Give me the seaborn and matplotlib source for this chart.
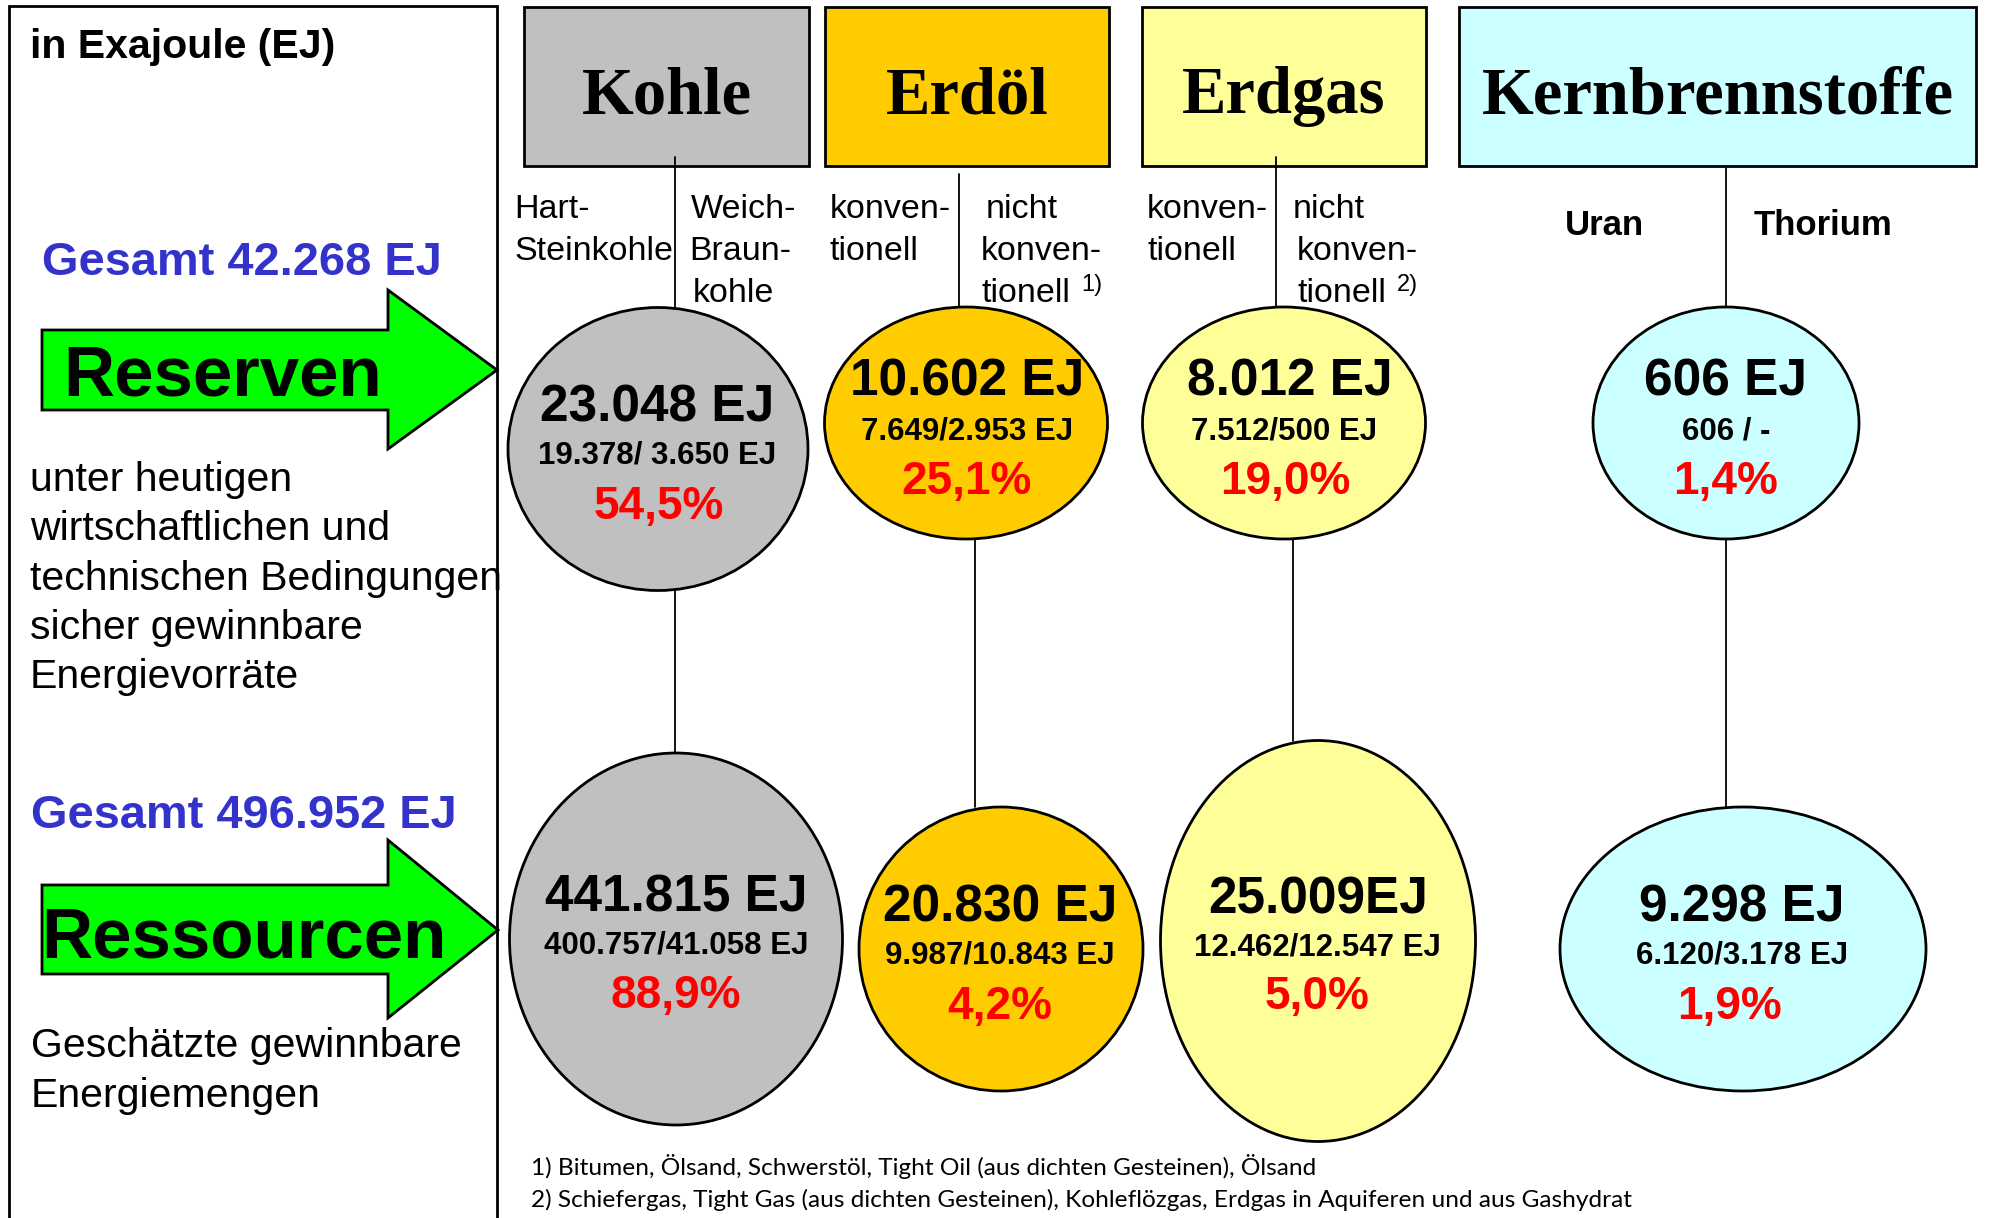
import matplotlib
matplotlib.use("Agg")
import matplotlib.pyplot as plt
from matplotlib.patches import Ellipse, Rectangle, Polygon
import seaborn as sns

# Data
fuels = ["Kohle", "Erdöl", "Erdgas", "Kernbrennstoffe"]
fuel_colors = ["#C0C0C0", "#FFCC00", "#FFFF99", "#CCFFFF"]
reserven_total = ["23.048 EJ", "10.602 EJ", "8.012 EJ", "606 EJ"]
reserven_split = ["19.378/ 3.650 EJ", "7.649/2.953 EJ", "7.512/500 EJ", "606 / -"]
reserven_share = ["54,5%", "25,1%", "19,0%", "1,4%"]
ressourcen_total = ["441.815 EJ", "20.830 EJ", "25.009EJ", "9.298 EJ"]
ressourcen_split = ["400.757/41.058 EJ", "9.987/10.843 EJ", "12.462/12.547 EJ", "6.120/3.178 EJ"]
ressourcen_share = ["88,9%", "4,2%", "5,0%", "1,9%"]
gesamt_reserven = "Gesamt 42.268 EJ"
gesamt_ressourcen = "Gesamt 496.952 EJ"
footnotes = ["1) Bitumen, Ölsand, Schwerstöl, Tight Oil (aus dichten Gesteinen), Ölsand",
             "2) Schiefergas, Tight Gas (aus dichten Gesteinen), Kohleflözgas, Erdgas in Aquiferen und aus Gashydrat"]

# Layout (pixel coordinates, y downwards)
header_x = [(524, 809), (825, 1109), (1142, 1426), (1459, 1976)]
header_y = (7, 166)
res_ell = [(658, 449, 300, 283), (966, 423, 283, 232), (1284, 423, 283, 232), (1726, 423, 266, 232)]
ress_ell = [(676, 939, 333, 372), (1001, 949, 284, 284), (1318, 941, 315, 401), (1743, 949, 366, 284)]
res_text_x = [(657, 657, 659), (967, 967, 967), (1290, 1284, 1285), (1726, 1726, 1726)]
res_base = [(422, 464, 519), (396, 440, 494), (396, 440, 494), (396, 440, 494)]
ress_text_x = [(676, 676, 676), (1000, 1000, 1000), (1318, 1317, 1317), (1742, 1742, 1729)]
ress_base = [(911, 954, 1008), (921, 964, 1019), (913, 956, 1009), (921, 964, 1019)]

sns.set_theme(style="white")
plt.rcParams['font.family'] = ['Liberation Sans', 'DejaVu Sans']
plt.rcParams['text.color'] = 'black'

fig = plt.figure(figsize=(19.9, 12.18), dpi=100)
ax = fig.add_axes([0, 0, 1, 1])
ax.set_xlim(0, 1990)
ax.set_ylim(1218, 0)
ax.axis("off")

# left frame
ax.plot([9, 9, 497, 497], [1218, 6, 6, 1218], color="black", lw=2, solid_joinstyle="miter")

ax.text(30, 58, "in Exajoule (EJ)", fontsize=29.5, fontweight="bold", va="baseline")
ax.text(42, 275, gesamt_reserven, fontsize=33.8, fontweight="bold", color="#3333CC", va="baseline")
ax.text(31, 828, gesamt_ressourcen, fontsize=33.8, fontweight="bold", color="#3333CC", va="baseline")


def arrow(x0, x1, xh, y0, y1, yh0, yh1, ytip):
    pts = [(x0, y0), (xh, y0), (xh, yh0), (x1, ytip), (xh, yh1), (xh, y1), (x0, y1)]
    ax.add_patch(Polygon(pts, closed=True, facecolor="#00FF00", edgecolor="black", lw=2, zorder=3))


arrow(42, 497, 388, 330, 410, 290, 449, 370)
arrow(42, 498, 388, 885, 974, 840, 1018, 930)
ax.text(63, 396, "Reserven", fontsize=51, fontweight="bold", va="baseline", zorder=4)
ax.text(41, 957, "Ressourcen", fontsize=51, fontweight="bold", va="baseline", zorder=4)

para = ["unter heutigen", "wirtschaftlichen und", "technischen Bedingungen",
        "sicher gewinnbare", "Energievorräte"]
for i, line in enumerate(para):
    ax.text(30, 491 + i * 49.3, line, fontsize=29.5, va="baseline", zorder=5)
for i, line in enumerate(["Geschätzte gewinnbare", "Energiemengen"]):
    ax.text(31, 1057 + i * 50, line, fontsize=29.5, va="baseline")

# header boxes
for i, name in enumerate(fuels):
    x0, x1 = header_x[i]
    ax.add_patch(Rectangle((x0, header_y[0]), x1 - x0, header_y[1] - header_y[0],
                           facecolor=fuel_colors[i], edgecolor="black", lw=2, zorder=2))
    ax.text((x0 + x1) / 2, 113, name, fontsize=48, fontweight="bold", family="Liberation Serif",
            ha="center", va="baseline", zorder=3)

# connectors
conn = [(675, 157, 307), (959, 174, 307), (1276, 157, 307), (1726, 168, 307),
        (675, 590, 753), (975, 539, 807), (1293, 539, 741), (1726, 539, 807)]
for x, ya, yb in conn:
    ax.plot([x, x], [ya, yb], color="black", lw=1.3, zorder=3)

# sub labels
sub = [("Hart-", 514, 218), ("Steinkohle", 514, 260), ("Weich-", 691, 218), ("Braun-", 689, 260),
       ("kohle", 693, 302), ("konven-", 830, 218), ("tionell", 830, 260), ("nicht", 986, 218),
       ("konven-", 981, 260), ("tionell", 981, 302), ("konven-", 1147, 218), ("tionell", 1147, 260),
       ("nicht", 1293, 218), ("konven-", 1297, 260), ("tionell", 1297, 302)]
for s, x, y in sub:
    ax.text(x, y, s, fontsize=24.5, va="baseline", zorder=4)
ax.text(1081, 291, "1)", fontsize=17, va="baseline", zorder=4)
ax.text(1397, 291, "2)", fontsize=17, va="baseline", zorder=4)
ax.text(1565, 235, "Uran", fontsize=25, fontweight="bold", va="baseline")
ax.text(1754, 235, "Thorium", fontsize=25, fontweight="bold", va="baseline")

# ellipses
for i in range(4):
    for ell, tx, base, tot, spl, shr in [(res_ell[i], res_text_x[i], res_base[i], reserven_total[i],
                                           reserven_split[i], reserven_share[i]),
                                          (ress_ell[i], ress_text_x[i], ress_base[i], ressourcen_total[i],
                                           ressourcen_split[i], ressourcen_share[i])]:
        cx, cy, w, h = ell
        ax.add_patch(Ellipse((cx, cy), w, h, facecolor=fuel_colors[i], edgecolor="black", lw=2, zorder=5))
        ax.text(tx[0], base[0], tot, fontsize=37, fontweight="bold", ha="center", va="baseline", zorder=6)
        ax.text(tx[1], base[1], spl, fontsize=22.5, fontweight="bold", ha="center", va="baseline", zorder=6)
        ax.text(tx[2], base[2], shr, fontsize=33, fontweight="bold", color="#FF0000", ha="center",
                va="baseline", zorder=6)

for i, fn in enumerate(footnotes):
    ax.text(531, 1175 + i * 32, fn, fontsize=17.6, family=["Lato", "DejaVu Sans"], va="baseline")

fig.savefig("out.png", dpi=100, facecolor="white")
